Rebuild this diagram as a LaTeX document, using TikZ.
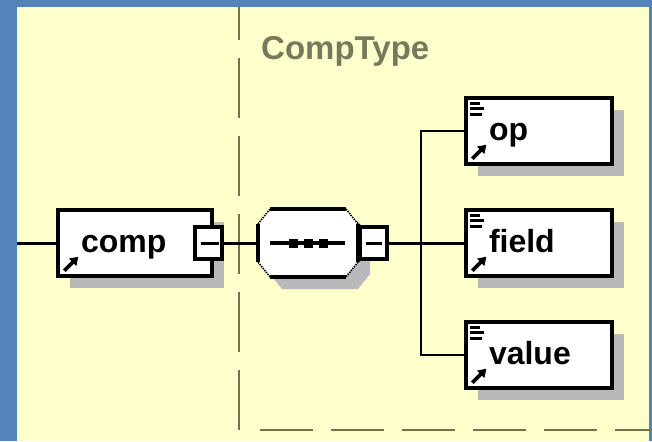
\documentclass[tikz,border=0pt]{standalone}
\usepackage{fontspec}
\setmainfont{Liberation Sans}
\usetikzlibrary{shadows,calc,arrows.meta}
\definecolor{bluebg}{RGB}{84,130,186}
\definecolor{yellowbg}{RGB}{255,255,204}
\definecolor{dashc}{RGB}{118,113,80}
\definecolor{titlec}{RGB}{118,122,92}
\definecolor{shadowc}{RGB}{185,185,188}
\begin{document}
\begin{tikzpicture}[x=1pt,y=-1pt,
  lbl/.style={font=\bfseries\fontsize{32}{36}\selectfont},
  elembox/.style={draw, line width=3.4pt, fill=white, rectangle, inner xsep=23pt,
    inner ysep=0pt, minimum height=66pt, text height=24pt, text depth=5pt,
    align=left, lbl,
    drop shadow={shadow xshift=12pt, shadow yshift=-12pt, fill=shadowc, opacity=1}},
  minusbox/.style={draw, line width=3.4pt, fill=white, rectangle, inner sep=0pt,
    minimum width=27pt, minimum height=32pt},
  seqbox/.style={rectangle, draw=none, inner sep=0pt, outer sep=0pt,
    minimum width=100pt, minimum height=68pt},
  conn/.style={line width=3pt},
  branch/.style={line width=2.3pt},
  divider/.style={dashc, line width=1.6pt},
  iconarrow/.style={line width=3.6pt, -{Triangle[length=8pt,width=10pt]}},
  iconline/.style={line width=2.8pt},
  minusline/.style={line width=3.6pt}
]
\useasboundingbox (0,0) rectangle (652,441);
% background
\fill[bluebg] (0,0) rectangle (652,441);
\fill[yellowbg] (17,7) rectangle (649,441);

% dividers
\coordinate (vbot) at (239,430);
\coordinate (vtop) at (239,7);
\draw[divider, dash pattern=on 60pt off 18pt] (vbot) -- (vtop);
\coordinate (hl) at (260,430);
\coordinate (hr) at (652,430);
\draw[divider, dash pattern=on 53pt off 18pt] (hl) -- (hr);

% title
\node[anchor=base west, inner sep=0pt, text=titlec,
  font=\bfseries\fontsize{33}{38}\selectfont] (title) at (261,60) {CompType};

% nodes
\node[elembox, text width=108pt] (comp) at (135,243) {comp};
\node[minusbox] (m1) at (208.5,243) {};
\node[seqbox] (seq) at (308,243) {};
\node[minusbox] (m2) at (373.5,243) {};
\node[elembox, text width=100pt] (op) at (539,131) {op};
\node[elembox, text width=100pt] (field) at (539,243) {field};
\node[elembox, text width=100pt] (value) at (539,355) {value};

% sequence compositor shape
\coordinate (s1) at ($(seq.north west)+(12,0)$);
\coordinate (s2) at ($(seq.north east)+(-12,0)$);
\coordinate (s3) at ($(seq.north east)+(0,15)$);
\coordinate (s4) at ($(seq.south east)+(0,-15)$);
\coordinate (s5) at ($(seq.south east)+(-12,0)$);
\coordinate (s6) at ($(seq.south west)+(12,0)$);
\coordinate (s7) at ($(seq.south west)+(0,-15)$);
\coordinate (s8) at ($(seq.north west)+(0,15)$);
\fill[shadowc] ([shift={(12pt,-12pt)}]s1) -- ([shift={(12pt,-12pt)}]s2) -- ([shift={(12pt,-12pt)}]s3) -- ([shift={(12pt,-12pt)}]s4) -- ([shift={(12pt,-12pt)}]s5) -- ([shift={(12pt,-12pt)}]s6) -- ([shift={(12pt,-12pt)}]s7) -- ([shift={(12pt,-12pt)}]s8) -- cycle;
\fill[white] (s1) -- (s2) -- (s3) -- (s4) -- (s5) -- (s6) -- (s7) -- (s8) -- cycle;
\draw[line width=3.4pt] (s1) -- (s2) (s3) -- (s4) (s5) -- (s6) (s7) -- (s8);
\draw[line width=1.5pt, densely dotted] (s2) -- (s3) (s4) -- (s5) (s6) -- (s7) (s8) -- (s1);
\draw[line width=3.4pt] ($(seq.west)+(12,0)$) -- ($(seq.east)+(-13,0)$);
\foreach \dx in {-15,0,15} {
  \fill ($(seq.center)+(\dx,0)+(-4.5,-4.5)$) rectangle ($(seq.center)+(\dx,0)+(4.5,4.5)$);
}
% redraw right minus box over compositor edge
\node[minusbox] (m2b) at (m2) {};

% connectors
\coordinate (in) at (17,243);
\coordinate (br) at (421,243);
\draw[conn] (in) -- (comp.west);
\draw[conn] (m1.east) -- (seq.west);
\draw[conn] (m2b.east) -- (br);
\draw[conn] (br) -- (field.west);
\draw[branch] (br) |- (op.west);
\draw[branch] (br) |- (value.west);

% minus signs
\draw[minusline] ($(m1.center)+(-8,0.3)$) -- ($(m1.center)+(10,0.3)$);
\draw[minusline] ($(m2b.center)+(-8,0.3)$) -- ($(m2b.center)+(8,0.3)$);

% icons
\foreach \n in {comp,op,field,value} {
  \draw[iconarrow] ($(\n.south west)+(8,-7)$) -- ($(\n.south west)+(22,-21)$);
}
\foreach \n in {op,field,value} {
  \draw[iconline] ($(\n.north west)+(6,7)$) -- +(10,0);
  \draw[iconline] ($(\n.north west)+(6,12)$) -- +(14,0);
  \draw[iconline] ($(\n.north west)+(6,18)$) -- +(12,0);
}
\end{tikzpicture}
\end{document}
